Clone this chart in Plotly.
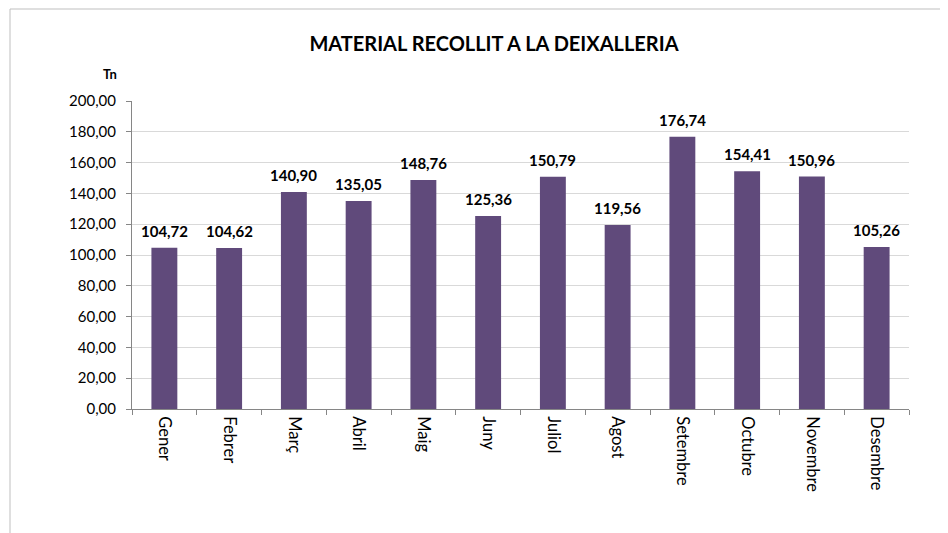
import plotly.graph_objects as go

months = ["Gener", "Febrer", "Març", "Abril", "Maig", "Juny", "Juliol", "Agost",
          "Setembre", "Octubre", "Novembre", "Desembre"]
tonnes = [104.72, 104.62, 140.90, 135.05, 148.76, 125.36, 150.79, 119.56,
          176.74, 154.41, 150.96, 105.26]
y_ticks = [0, 20, 40, 60, 80, 100, 120, 140, 160, 180, 200]

FONT = "Lato"
OFF = 8  # page body margin
W, H = 948 - OFF, 533 - OFF
L, R, T, B = 132 - OFF, 39, 101 - OFF, 124
pw, ph = W - L - R, H - T - B

fig = go.Figure(go.Bar(
    x=months, y=tonnes,
    marker=dict(color="#604A7B", line=dict(width=0)),
    cliponaxis=False,
))

labels = [dict(x=m, y=v, xref="x", yref="y", text="<b>%s</b>" % f"{v:.2f}".replace(".", ","),
               showarrow=False, xanchor="center", yanchor="bottom", yshift=6,
               font=dict(family=FONT, size=15, color="#000000"))
          for m, v in zip(months, tonnes)]

fig.update_layout(
    width=W, height=H,
    margin=dict(l=L, r=R, t=T, b=B),
    paper_bgcolor="white", plot_bgcolor="white",
    separators=",.",
    bargap=0.6,
    showlegend=False,
    title=dict(text="<b>MATERIAL RECOLLIT A LA DEIXALLERIA</b>",
               x=(494 - OFF) / W, xanchor="center", y=1 - (44 - OFF) / H, yanchor="middle",
               font=dict(family=FONT, size=20, color="#000000")),
    xaxis=dict(
        tickangle=90, tickfont=dict(family=FONT, size=16.5, color="#000000"),
        showline=True, linecolor="#868686", linewidth=1,
        ticks="outside", tickson="boundaries", ticklen=5, tickcolor="#868686",
        ticklabelstandoff=3,
        showgrid=False,
    ),
    yaxis=dict(
        range=[0, 200], tickvals=y_ticks, tickformat=".2f",
        tickfont=dict(family=FONT, size=15, color="#000000"),
        showline=True, linecolor="#868686", linewidth=1,
        ticks="outside", ticklen=5, tickcolor="#868686",
        ticklabelstandoff=7,
        showgrid=True, gridcolor="#D9D9D9", gridwidth=1,
        zeroline=False,
    ),
    annotations=labels + [dict(text="<b>Tn</b>", xref="paper", yref="paper",
                      x=(110 - 132) / pw, y=(409 - 74) / ph,
                      xanchor="center", yanchor="middle", showarrow=False,
                      font=dict(family=FONT, size=13, color="#000000"))],
    shapes=[dict(type="rect", xref="paper", yref="paper",
                 x0=(10 - 132) / pw, x1=(948 + 20 - 132) / pw,
                 y0=(409 - (533 + 20)) / ph, y1=(409 - 9) / ph,
                 line=dict(color="#BFBFBF", width=1), fillcolor="rgba(0,0,0,0)",
                 layer="below")],
)

fig.write_html("out.html")
